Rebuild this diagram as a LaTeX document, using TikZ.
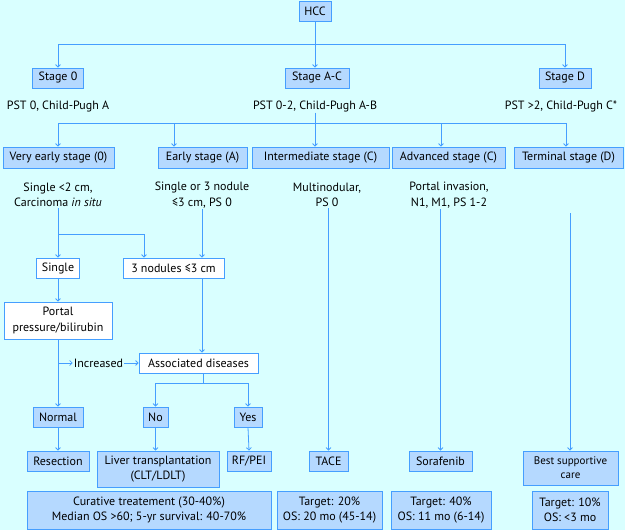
\documentclass[tikz,border=0pt]{standalone}
\usepackage{fontspec}
\setmainfont{PT Sans}
\usetikzlibrary{arrows.meta}
\definecolor{bgc}{rgb}{.85,1,1}
\definecolor{bx}{rgb}{.71,.85,1}
\definecolor{ln}{rgb}{.27,.62,1}

\begin{document}
\begin{tikzpicture}[
      x=1pt, y=-1pt,
      every node/.style={font=\fontsize{12}{15.5}\selectfont, align=center, inner sep=1pt},
      box/.style={draw=ln, fill=bx, line width=.8pt, minimum height=20pt},
      wbox/.style={box, fill=white},
      lin/.style={draw=ln, line width=.8pt},
      arr/.style={lin, -{Straight Barb[length=2.5pt,width=5pt]}}]

        \fill[bgc] (0,0) rectangle (625,530);

        \node[box, minimum width=32pt] (hcc) at (315,11) {HCC};

        % stages
        \node[box, minimum width=51pt] (s0)  at (58,78)  {Stage 0};
        \node[box, minimum width=64pt] (sac) at (317,78) {Stage A-C};
        \node[box, minimum width=52pt] (sd)  at (565,78) {Stage D};

        \coordinate (j1) at (315,44);
        \draw[lin] (hcc.south) -- (j1);
        \draw[arr] (j1) -| (s0.north);
        \draw[arr] (j1) -| (sd.north);
        \draw[arr] (j1) -- (j1 |- sac.north);

        \node (pst0)  at (58,106)  {PST 0, Child-Pugh A};
        \node (pst02) at (315,106) {PST 0-2, Child-Pugh A-B};
        \node (pstd)  at (561,106) {PST >2, Child-Pugh C*};

        % BCLC stages
        \node[box, minimum width=111pt, minimum height=21pt] (vearly) at (58.5,157.5)  {Very early stage (0)};
        \node[box, minimum width=89pt,  minimum height=21pt] (early)  at (202.5,157.5) {Early stage (A)};
        \node[box, minimum width=137pt, minimum height=21pt] (inter)  at (320.5,157.5) {Intermediate stage (C)};
        \node[box, minimum width=113pt, minimum height=21pt] (adv)    at (448.5,157.5) {Advanced stage (C)};
        \node[box, minimum width=109pt, minimum height=21pt] (term)   at (568.5,157.5) {Terminal stage (D)};

        \coordinate (j2) at (315,123);
        \coordinate (j2l) at (58,123);
        \coordinate (j2r) at (566,123);
        \draw[lin] (pst02.south) -- (j2);
        \draw[lin] (j2l) -- (j2r);
        \foreach \n/\x in {vearly/58, early/174, inter/315, adv/441, term/566}
        {
          \coordinate (\n-in) at (\x,0);
          \draw[arr] (j2 -| \n-in) -- (\n.north -| \n-in);
        }

        \node (t0) at (58,195)  {Single <2 cm,\\Carcinoma \textit{in situ}};
        \node (tA) at (202,195) {Single or 3 nodule\\≤3 cm, PS 0};
        \node (tC) at (327,195) {Multinodular,\\PS 0};
        \node (tD) at (449,195) {Portal invasion,\\N1, M1, PS 1-2};

        % very early / early
        \node[wbox, minimum width=43pt]  (single) at (58,268)    {Single};
        \node[wbox, minimum width=101pt] (nod3)   at (173.5,268) {3 nodules ≤3 cm};

        \coordinate (b1) at (58,234);
        \coordinate (b2) at (144,0);
        \draw[lin] (t0.south) -- (b1);
        \draw[arr] (b1) -- (single.north);
        \draw[arr] (b1) -| (nod3.north -| b2);
        \draw[arr] (tA.south) -- (tA.south |- nod3.north);

        \node[wbox, minimum width=108pt, minimum height=37pt] (portal) at (58,320.5)  {Portal\\pressure/bilirubin};
        \node[wbox, minimum width=119pt] (assoc) at (198.5,363) {Associated diseases};
        \node (incr) at (98.5,363) {Increased};
        \draw[arr] (single.south) -- (portal.north);

        \coordinate (p1) at (58,363);
        \draw[arr] (p1) -- (incr.west);
        \draw[arr] (incr.east) -- (assoc.west);
        \draw[arr] (tA.south |- nod3.south) -- (tA.south |- assoc.north);

        \node[box, minimum width=50pt] (normal) at (58,417)    {Normal};
        \node[box, minimum width=25pt] (no)     at (155.5,417) {No};
        \node[box, minimum width=28pt] (yes)    at (248,417)   {Yes};

        \coordinate (b3) at (203,383);
        \draw[arr] (portal.south) -- (normal.north);
        \draw[lin] (b3 |- assoc.south) -- (b3);
        \draw[arr] (b3) -| (no.north);
        \draw[arr] (b3) -| (yes.north);

        % treatments
        \node[box, minimum width=62pt]  (resec) at (58,461)    {Resection};
        \node[box, minimum width=122pt, minimum height=36pt] (liver) at (158,469) {Liver transplantation\\(CLT/LDLT)};
        \node[box, minimum width=44pt]  (rfpei) at (249,461)   {RF/PEI};
        \node[box, minimum width=39pt]  (tace)  at (328.5,461) {TACE};
        \node[box, minimum width=63pt]  (sora)  at (440.5,461) {Sorafenib};
        \node[box, minimum width=95pt, minimum height=34pt, font=\fontsize{11}{14}\selectfont] (bsc) at (570.5,468) {Best supportive\\care};

        \coordinate (tt) at (570,213);
        \draw[arr] (normal.south) -- (resec.north);
        \draw[arr] (no.south) -- (no.south |- liver.north);
        \draw[arr] (yes.south) -- (rfpei.north);
        \draw[arr] (tace.north |- tC.south) -- (tace.north);
        \draw[arr] (sora.north |- tD.south) -- (sora.north);
        \draw[arr] (tt) -- (tt |- bsc.north);

        % outcome
        \node[box, minimum width=244pt, minimum height=38pt] (cur)   at (149,510)   {Curative treatement (30-40\%)\\Median OS >60; 5-yr survival: 40-70\%};
        \node[box, minimum width=105pt, minimum height=38pt] (tacet) at (329.5,510) {Target: 20\%\\OS: 20 mo (45-14)};
        \node[box, minimum width=100pt, minimum height=38pt] (sort)  at (441,510)   {Target: 40\%\\OS: 11 mo (6-14)};
        \node[box, minimum width=76pt,  minimum height=38pt] (bsct)  at (570,510)   {Target: 10\%\\OS: <3 mo};

      \end{tikzpicture}
\end{document}
